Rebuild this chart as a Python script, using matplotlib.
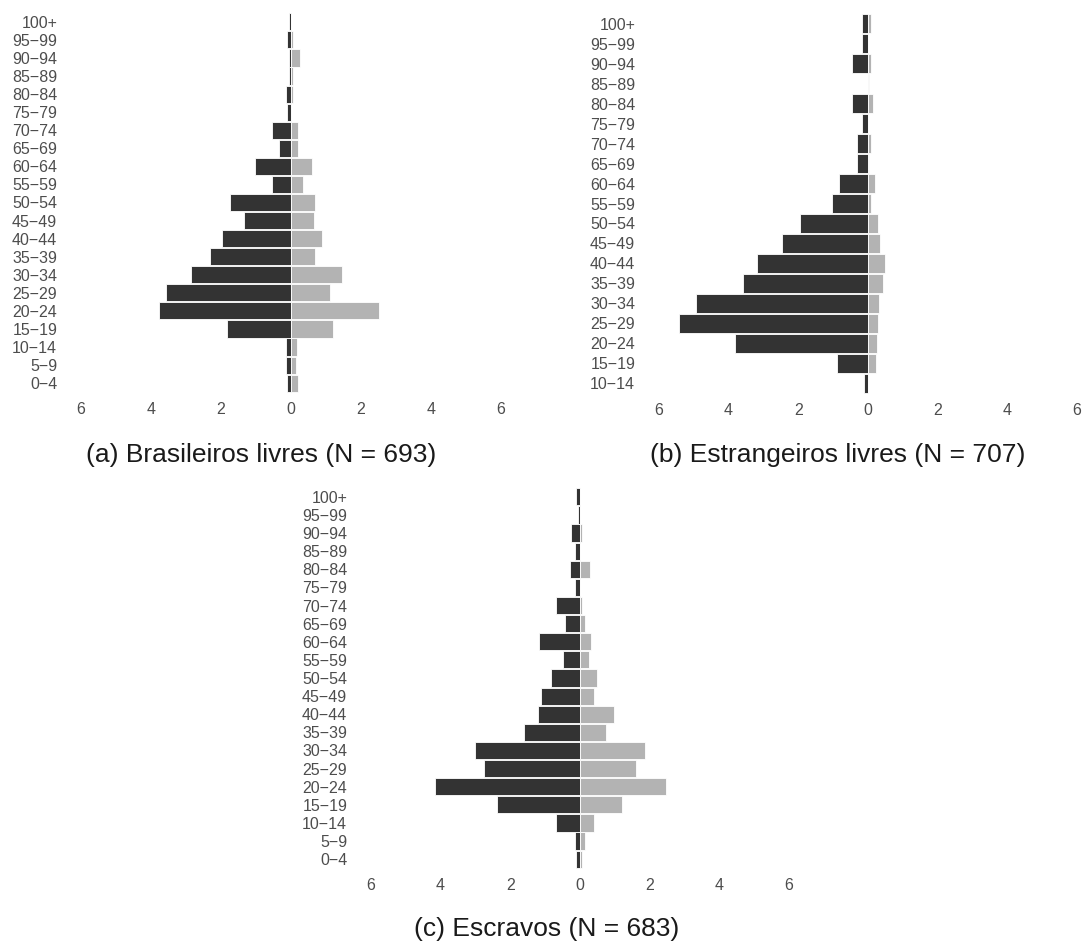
import matplotlib
matplotlib.use("Agg")
import matplotlib.pyplot as plt
import numpy as np

plt.rcParams['font.family'] = ['Liberation Sans', 'DejaVu Sans']

# Age groups (bottom to top)
ages_full = ["0\u22124", "5\u22129", "10\u221214", "15\u221219", "20\u221224", "25\u221229",
             "30\u221234", "35\u221239", "40\u221244", "45\u221249", "50\u221254", "55\u221259",
             "60\u221264", "65\u221269", "70\u221274", "75\u221279", "80\u221284", "85\u221289",
             "90\u221294", "95\u221299", "100+"]
ages_b = ages_full[2:]

# (a) Brasileiros livres
a_dark = [0.12, 0.15, 0.15, 1.83, 3.76, 3.57, 2.85, 2.31, 1.97, 1.35, 1.74, 0.54,
          1.03, 0.34, 0.54, 0.12, 0.15, 0.06, 0.06, 0.12, 0.06]
a_light = [0.20, 0.14, 0.17, 1.20, 2.50, 1.11, 1.45, 0.69, 0.88, 0.66, 0.69, 0.34,
           0.60, 0.20, 0.20, 0.00, 0.07, 0.05, 0.26, 0.05, 0.00]

# (b) Estrangeiros livres
b_dark = [0.12, 0.89, 3.81, 5.42, 4.93, 3.58, 3.18, 2.46, 1.95, 1.03,
          0.83, 0.32, 0.32, 0.17, 0.46, 0.00, 0.46, 0.17, 0.17]
b_light = [0.00, 0.23, 0.26, 0.29, 0.32, 0.43, 0.49, 0.35, 0.29, 0.09,
           0.20, 0.03, 0.09, 0.00, 0.14, 0.03, 0.09, 0.00, 0.09]

# (c) Escravos
c_dark = [0.11, 0.15, 0.69, 2.37, 4.15, 2.75, 3.00, 1.60, 1.20, 1.11, 0.83, 0.48,
          1.17, 0.44, 0.69, 0.15, 0.30, 0.15, 0.26, 0.06, 0.11]
c_light = [0.06, 0.15, 0.40, 1.20, 2.46, 1.60, 1.86, 0.75, 0.98, 0.40, 0.49, 0.26,
           0.32, 0.15, 0.06, 0.00, 0.29, 0.00, 0.06, 0.00, 0.00]

xticks = [-6, -4, -2, 0, 2, 4, 6]
xticklabels = ["6", "4", "2", "0", "2", "4", "6"]

captions = ["(a) Brasileiros livres (N = 693)",
            "(b) Estrangeiros livres (N = 707)",
            "(c) Escravos (N = 683)"]

DARK = "#333333"
LIGHT = "#b3b3b3"
TXT = "#4d4d4d"

W, H = 1085, 942
fig = plt.figure(figsize=(W / 100, H / 100), dpi=100)


def px_axes(left, top, right, bottom):
    return fig.add_axes([left / W, 1 - bottom / H, (right - left) / W, (bottom - top) / H])


def pyramid(ax, cats, dark, light):
    y = np.arange(len(cats))
    ax.barh(y, -np.array(dark), height=0.95, color=DARK, edgecolor="white", linewidth=0.6)
    ax.barh(y, np.array(light), height=0.95, color=LIGHT, edgecolor="white", linewidth=0.6)
    ax.set_xlim(-6.6, 6.6)
    ax.set_ylim(-0.6, len(cats) - 0.4)
    ax.set_yticks(y)
    ax.set_yticklabels(cats)
    ax.set_xticks(xticks)
    ax.set_xticklabels(xticklabels)
    ax.tick_params(length=0, labelsize=11.5, labelcolor=TXT)
    ax.tick_params(axis="x", pad=6)
    ax.tick_params(axis="y", pad=2)
    for s in ax.spines.values():
        s.set_visible(False)


ax_a = px_axes(60, 11, 522, 394)
pyramid(ax_a, ages_full, a_dark, a_light)
ax_b = px_axes(638, 12, 1098, 395)
pyramid(ax_b, ages_b, b_dark, b_light)
ax_c = px_axes(350, 486, 810, 870)
pyramid(ax_c, ages_full, c_dark, c_light)

fig.text(261 / W, 1 - 455 / H, captions[0], ha="center", va="center", fontsize=19, color="#1a1a1a")
fig.text(838 / W, 1 - 455 / H, captions[1], ha="center", va="center", fontsize=19, color="#1a1a1a")
fig.text(547 / W, 1 - 929 / H, captions[2], ha="center", va="center", fontsize=19, color="#1a1a1a")

fig.savefig("out.png", dpi=100, facecolor="white")
